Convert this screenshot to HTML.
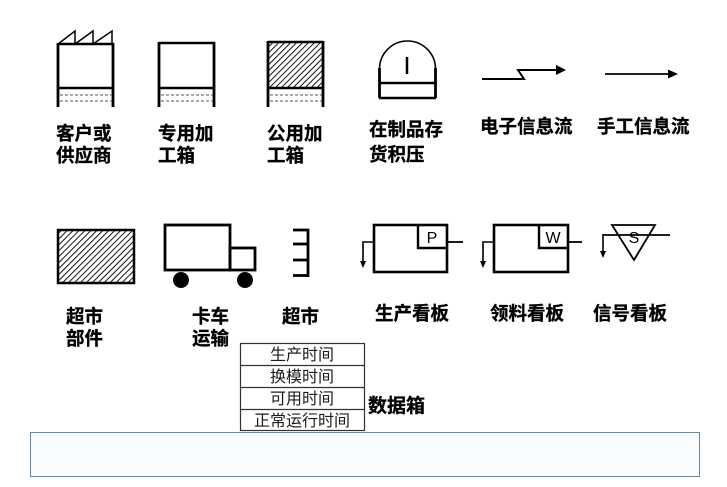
<!DOCTYPE html>
<html><head><meta charset="utf-8"><style>
html,body{margin:0;padding:0;background:#fff;}
svg{display:block;}
.lb{font-family:"Liberation Sans","Noto Sans CJK SC",sans-serif;font-weight:bold;font-size:18.5px;fill:#000;stroke:#000;stroke-width:0.3px;}
.dt{font-family:"Liberation Sans","Noto Sans CJK SC",sans-serif;font-size:16px;fill:#1a1a1a;}
.kl{font-family:"Liberation Sans",sans-serif;font-size:16px;fill:#000;}
</style></head><body>
<svg width="727" height="487" viewBox="0 0 727 487" xmlns="http://www.w3.org/2000/svg">
<defs>
<pattern id="h" patternUnits="userSpaceOnUse" width="4.2" height="4.2" patternTransform="rotate(45)">
<rect width="4.2" height="4.2" fill="#fff"/>
<line x1="0" y1="0" x2="0" y2="4.2" stroke="#111" stroke-width="2"/>
</pattern>
</defs>

<!-- Customer / supplier -->
<g stroke="#000" fill="none">
<polyline points="58,44 75,31 75,44 93,31 93,44 112,31 112,44" stroke-width="1.5"/>
<line x1="58" y1="44" x2="114" y2="44" stroke-width="2.5"/>
<line x1="58" y1="43" x2="58" y2="107" stroke-width="2.8"/>
<line x1="113" y1="43" x2="113" y2="107" stroke-width="2.8"/>
<line x1="58" y1="88" x2="113" y2="88" stroke-width="2.5"/>
<line x1="60" y1="95" x2="112" y2="95" stroke="#555" stroke-width="1" stroke-dasharray="3,2"/>
<line x1="60" y1="101" x2="112" y2="101" stroke="#555" stroke-width="1" stroke-dasharray="3,2"/>
</g>

<!-- Dedicated process -->
<g stroke="#000" fill="none">
<line x1="159" y1="43" x2="215" y2="43" stroke-width="2.5"/>
<line x1="159" y1="42" x2="159" y2="107" stroke-width="2.8"/>
<line x1="214" y1="42" x2="214" y2="107" stroke-width="2.8"/>
<line x1="159" y1="88" x2="214" y2="88" stroke-width="2.5"/>
<line x1="161" y1="95" x2="213" y2="95" stroke="#555" stroke-width="1" stroke-dasharray="3,2"/>
<line x1="161" y1="101" x2="213" y2="101" stroke="#555" stroke-width="1" stroke-dasharray="3,2"/>
</g>

<!-- Shared process -->
<rect x="268" y="42" width="55" height="46" fill="url(#h)"/>
<g stroke="#000" fill="none">
<line x1="268" y1="42" x2="323" y2="42" stroke-width="2.5"/>
<line x1="268" y1="41" x2="268" y2="107" stroke-width="2.8"/>
<line x1="323" y1="41" x2="323" y2="107" stroke-width="2.8"/>
<line x1="268" y1="88" x2="323" y2="88" stroke-width="2.5"/>
<line x1="270" y1="95" x2="322" y2="95" stroke="#555" stroke-width="1" stroke-dasharray="3,2"/>
<line x1="270" y1="101" x2="322" y2="101" stroke="#555" stroke-width="1" stroke-dasharray="3,2"/>
</g>

<!-- WIP inventory -->
<g stroke="#000" fill="none">
<path d="M379.5,69 A28,28 0 0 1 435.5,69" stroke-width="1.6"/>
<line x1="379.5" y1="68" x2="379.5" y2="98" stroke-width="2.8"/>
<line x1="435.5" y1="68" x2="435.5" y2="98" stroke-width="2.8"/>
<line x1="379" y1="83" x2="436" y2="83" stroke-width="2.5"/>
<line x1="379" y1="98" x2="436" y2="98" stroke-width="2.5"/>
<line x1="407" y1="57" x2="407" y2="74" stroke-width="2.5"/>
</g>

<!-- Electronic info flow -->
<g stroke="#000" fill="none" stroke-width="2">
<polyline points="482,79 524,79 518,70 558,70"/>
</g>
<polygon points="556,65 566,70 556,75" fill="#000"/>

<!-- Manual info flow -->
<line x1="605" y1="74" x2="670" y2="74" stroke="#000" stroke-width="1.8"/>
<polygon points="668,69.5 678,74 668,78.5" fill="#000"/>

<!-- Row1 labels -->
<text class="lb" x="56" y="140">客户或</text>
<text class="lb" x="56" y="162">供应商</text>
<text class="lb" x="158" y="140">专用加</text>
<text class="lb" x="158" y="162">工箱</text>
<text class="lb" x="267" y="140">公用加</text>
<text class="lb" x="267" y="162">工箱</text>
<text class="lb" x="369" y="136">在制品存</text>
<text class="lb" x="369" y="161">货积压</text>
<text class="lb" x="480" y="133">电子信息流</text>
<text class="lb" x="597" y="133">手工信息流</text>

<!-- Supermarket parts -->
<rect x="58" y="230" width="76" height="53" fill="url(#h)" stroke="#000" stroke-width="2.5"/>

<!-- Truck -->
<g stroke="#000" fill="none" stroke-width="2.8">
<rect x="165" y="225" width="65" height="45"/>
<rect x="230" y="248" width="25" height="22"/>
</g>
<circle cx="181" cy="280" r="8" fill="#000"/>
<circle cx="245" cy="280" r="8" fill="#000"/>

<!-- Supermarket -->
<g stroke="#000" stroke-width="2.8" fill="none">
<line x1="308" y1="229" x2="308" y2="277"/>
<line x1="293" y1="230" x2="309" y2="230"/>
<line x1="293" y1="244" x2="309" y2="244"/>
<line x1="293" y1="260" x2="309" y2="260"/>
<line x1="293" y1="275.5" x2="309" y2="275.5"/>
</g>

<!-- Production kanban -->
<g stroke="#000" fill="none">
<rect x="374" y="225" width="73" height="47" stroke-width="2.6"/>
<polyline points="418,225 418,248 447,248" stroke-width="2.4"/>
<line x1="447" y1="242" x2="463" y2="242" stroke-width="1.8"/>
<polyline points="374,242 363,242 363,262" stroke-width="1.6"/>
</g>
<polygon points="360,261 366,261 363,268" fill="#000"/>
<text class="kl" x="432" y="243" text-anchor="middle">P</text>

<!-- Withdrawal kanban -->
<g stroke="#000" fill="none">
<rect x="494" y="225" width="74" height="47" stroke-width="2.6"/>
<polyline points="539,225 539,248 568,248" stroke-width="2.4"/>
<line x1="568" y1="242" x2="582" y2="242" stroke-width="1.8"/>
<polyline points="494,242 483,242 483,262" stroke-width="1.6"/>
</g>
<polygon points="480,261 486,261 483,268" fill="#000"/>
<text class="kl" x="553" y="243" text-anchor="middle">W</text>

<!-- Signal kanban -->
<g stroke="#000" fill="none">
<polygon points="612,225 655,225 634,260" stroke-width="1.8"/>
<line x1="603" y1="235" x2="670" y2="235" stroke-width="1.8"/>
<line x1="603" y1="234" x2="603" y2="252" stroke-width="1.6"/>
</g>
<polygon points="600,251 606,251 603,258" fill="#000"/>
<text class="kl" x="634" y="243" text-anchor="middle">S</text>

<!-- Row2 labels -->
<text class="lb" x="66" y="323">超市</text>
<text class="lb" x="66" y="345">部件</text>
<text class="lb" x="192" y="323">卡车</text>
<text class="lb" x="192" y="345">运输</text>
<text class="lb" x="282" y="323">超市</text>
<text class="lb" x="375" y="320">生产看板</text>
<text class="lb" x="490" y="320">领料看板</text>
<text class="lb" x="593" y="320">信号看板</text>

<!-- Data box -->
<g stroke="#333" stroke-width="1.2" fill="none">
<rect x="240.5" y="343.5" width="124" height="87"/>
<line x1="240.5" y1="365.5" x2="364.5" y2="365.5"/>
<line x1="240.5" y1="387.5" x2="364.5" y2="387.5"/>
<line x1="240.5" y1="409.5" x2="364.5" y2="409.5"/>
</g>
<text class="dt" x="302" y="360" text-anchor="middle">生产时间</text>
<text class="dt" x="302" y="382" text-anchor="middle">换模时间</text>
<text class="dt" x="302" y="404" text-anchor="middle">可用时间</text>
<text class="dt" x="302" y="426" text-anchor="middle">正常运行时间</text>
<text class="lb" x="368" y="412" style="font-size:19px">数据箱</text>

<!-- Bottom box -->
<rect x="30.5" y="432.5" width="669" height="44" fill="#f8fcff" stroke="#6f8495" stroke-width="1"/>
</svg>
</body></html>
